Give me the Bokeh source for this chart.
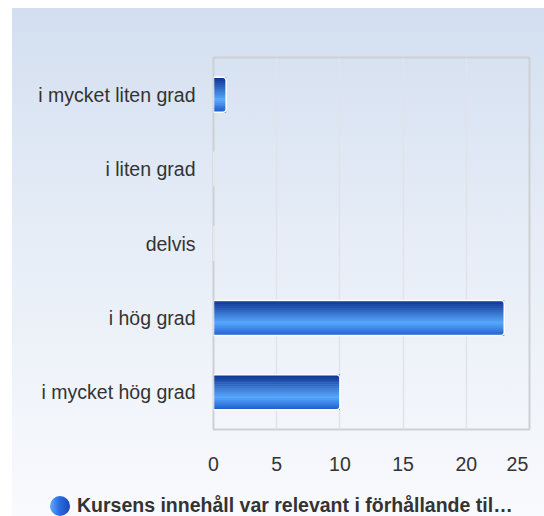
from bokeh.plotting import figure
from bokeh.layouts import column
from bokeh.models import ColumnDataSource, FactorRange, Range1d, FixedTicker, Div
from bokeh.transform import dodge
from bokeh.embed import file_html
from bokeh.resources import INLINE

# ---- data ----
categories = ["i mycket liten grad", "i liten grad", "delvis", "i hög grad", "i mycket hög grad"]
values = [1, 0, 0, 23, 10]
series_name = "Kursens innehåll var relevant i förhållande til…"
x_ticks = [0, 5, 10, 15, 20, 25]

src = ColumnDataSource(dict(cat=categories, val=values))

p = figure(width=532, height=472, output_backend="svg", toolbar_location=None,
           y_range=FactorRange(factors=list(reversed(categories))),
           x_range=Range1d(0, 25),
           min_border_left=201, min_border_right=15, min_border_top=49, min_border_bottom=51)
p.border_fill_alpha = 0
p.background_fill_alpha = 0
p.outline_line_color = "#cdd0d4"
p.outline_line_width = 2

# gradient bars built from thin strips
def lerp(c1, c2, t):
    a = [int(c1[i:i + 2], 16) for i in (1, 3, 5)]
    b = [int(c2[i:i + 2], 16) for i in (1, 3, 5)]
    return "#%02x%02x%02x" % tuple(round(a[k] + (b[k] - a[k]) * t) for k in range(3))

def grad(t):
    if t < 0.65:
        return lerp("#0b2f8c", "#58a8ff", t / 0.65)
    return lerp("#58a8ff", "#1c5cc8", (t - 0.65) / 0.35)

bar_h = 0.47
N = 18
sh = bar_h / N
for i in range(N):
    off = bar_h / 2 - (i + 0.5) * sh
    p.hbar(y=dodge("cat", off, range=p.y_range), right="val", left=0, height=sh * 1.25,
           source=src, fill_color=grad((i + 0.5) / N), line_color=None)

p.hbar(y="cat", right="val", left=0, height=bar_h, source=src, fill_color=None,
       line_color="white", line_width=1.5, border_radius=(0, 3, 3, 0))

# axes
p.xaxis.ticker = FixedTicker(ticks=x_ticks)
p.xaxis.major_label_overrides = {25: "25\u00a0\u00a0\u00a0"}
for ax in (p.xaxis[0], p.yaxis[0]):
    ax.axis_line_color = None
    ax.major_tick_line_color = None
    ax.minor_tick_line_color = None
    ax.major_tick_out = 0
    ax.major_tick_in = 0
    ax.major_label_text_font = "Liberation Sans"
    ax.major_label_text_font_size = "19.5px"
    ax.major_label_text_color = "#333333"
p.yaxis.major_label_standoff = 18
p.xaxis.major_label_standoff = 23

p.xgrid.grid_line_color = "#e0e3e8"
p.xgrid.grid_line_width = 1.5
p.ygrid.grid_line_color = None

# legend row
legend_html = (
    '<div style="padding:14px 0 0 38px; line-height:22px; white-space:nowrap; '
    'font:bold 19.5px \'Liberation Sans\', Arial, sans-serif; color:#333333;">'
    '<span style="display:inline-block; width:20px; height:20px; border-radius:50%; '
    'background:linear-gradient(to right, #62aaff, #2a6ee0 45%, #1a47b8); '
    'vertical-align:-4px; margin-right:7px;"></span>'
    + series_name + '</div>'
)
legend_div = Div(text=legend_html, width=532, height=36, margin=(0, 0, 0, 0))

layout = column(p, legend_div, width=532, height=508, spacing=0)
layout.margin = (8, 0, 0, 12)
layout.styles = {"background": "linear-gradient(to bottom, #d3dff0 0%, #e6edf7 45%, #f9fafd 100%)",
                 "overflow": "hidden"}

open("out.html", "w").write(file_html(layout, INLINE))
